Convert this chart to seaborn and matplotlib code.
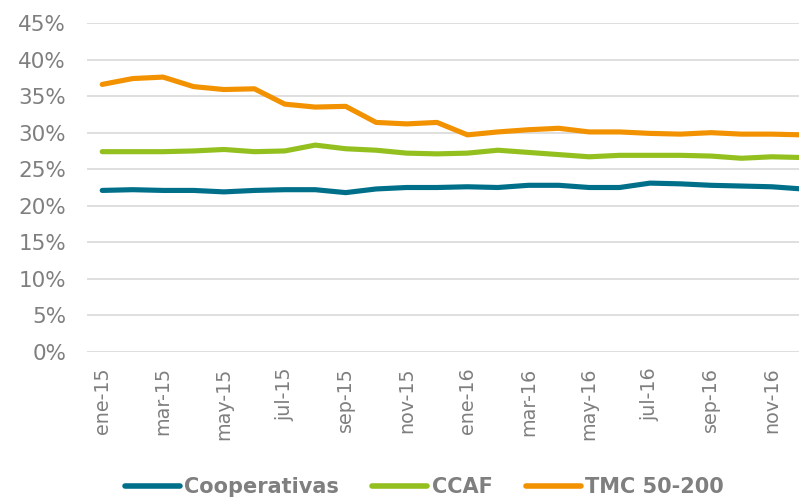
import pandas as pd
import numpy as np
import matplotlib
matplotlib.use("Agg")
import matplotlib.pyplot as plt
import seaborn as sns
from matplotlib.ticker import PercentFormatter

# meses (ene-15 .. dic-16)
meses = ["ene-15", "feb-15", "mar-15", "abr-15", "may-15", "jun-15",
         "jul-15", "ago-15", "sep-15", "oct-15", "nov-15", "dic-15",
         "ene-16", "feb-16", "mar-16", "abr-16", "may-16", "jun-16",
         "jul-16", "ago-16", "sep-16", "oct-16", "nov-16", "dic-16"]

cooperativas = [22.1, 22.2, 22.1, 22.1, 21.9, 22.1, 22.2, 22.2, 21.8, 22.3, 22.5, 22.5,
                22.6, 22.5, 22.8, 22.8, 22.5, 22.5, 23.1, 23.0, 22.8, 22.7, 22.6, 22.3]
ccaf = [27.4, 27.4, 27.4, 27.5, 27.7, 27.4, 27.5, 28.3, 27.8, 27.6, 27.2, 27.1,
        27.2, 27.6, 27.3, 27.0, 26.7, 26.9, 26.9, 26.9, 26.8, 26.5, 26.7, 26.6]
tmc = [36.6, 37.4, 37.6, 36.3, 35.9, 36.0, 33.9, 33.5, 33.6, 31.4, 31.2, 31.4,
       29.7, 30.1, 30.4, 30.6, 30.1, 30.1, 29.9, 29.8, 30.0, 29.8, 29.8, 29.7]

series = ["Cooperativas", "CCAF", "TMC 50-200"]
colores = ["#00708A", "#93C01F", "#F39200"]
gris = "#7f7f7f"

df = pd.DataFrame({"mes": meses, "Cooperativas": cooperativas,
                   "CCAF": ccaf, "TMC 50-200": tmc})
df["i"] = np.arange(len(meses))
largo = df.melt(id_vars=["mes", "i"], value_vars=series,
                var_name="serie", value_name="valor")
largo["valor"] = largo["valor"] / 100

sns.set_style("white")
plt.rcParams["font.family"] = ["DejaVu Sans"]

fig = plt.figure(figsize=(7.99, 4.97), dpi=100)
ax = fig.add_axes([87 / 799, 1 - 352 / 497, 1 - 87 / 799 + 0.004, (352 - 23) / 497])

sns.lineplot(data=largo, x="i", y="valor", hue="serie", hue_order=series,
             palette=colores, linewidth=3.7, ax=ax, legend=True)

ax.set_ylim(0, 0.45)
ax.set_yticks(np.arange(0, 0.451, 0.05))
ax.yaxis.set_major_formatter(PercentFormatter(1.0, decimals=0))
ax.set_xlim(-0.5, 23.0)
ax.set_xticks(df["i"][::2])
ax.set_xticklabels(df["mes"][::2], rotation=90)
ax.set_xlabel("")
ax.set_ylabel("")

ax.grid(axis="y", color="#d9d9d9", linewidth=1.2)
ax.set_axisbelow(True)
for s in ["top", "right", "left", "bottom"]:
    ax.spines[s].set_visible(False)
ax.tick_params(axis="both", length=0, labelcolor=gris)
ax.tick_params(axis="y", labelsize=15.5, pad=15)
ax.tick_params(axis="x", labelsize=13.8, pad=11)

handles, labels = ax.get_legend_handles_labels()
leg = fig.legend(handles, labels, loc="center", bbox_to_anchor=(0.531, 0.02),
                 ncol=3, frameon=False, handlelength=2.65, columnspacing=1.6,
                 handletextpad=0.2, borderpad=0, borderaxespad=0,
                 prop={"weight": "bold", "size": 15})
ax.get_legend().remove()
for t in leg.get_texts():
    t.set_color(gris)
for l in leg.get_lines():
    l.set_linewidth(4.0)
    l.set_solid_capstyle("round")

fig.savefig("out.png", dpi=100)
